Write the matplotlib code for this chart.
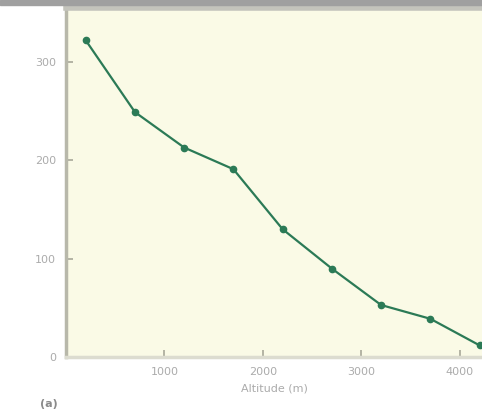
import matplotlib
matplotlib.use("Agg")
import matplotlib.pyplot as plt
from matplotlib.patches import Rectangle

# altitude (m) and value
altitude = [200, 700, 1200, 1700, 2200, 2700, 3200, 3700, 4200]
values = [322, 249, 213, 191, 130, 90, 53, 39, 12]
xticks = [1000, 2000, 3000, 4000]
yticks = [0, 100, 200, 300]

fig = plt.figure(figsize=(4.82, 4.11), dpi=100)
ax = fig.add_axes([0.137, 0.131, 0.863, 0.85])
ax.set_facecolor('#fafae6')

ax.plot(altitude, values, color='#2b7a56', lw=1.6, marker='o', ms=4.5,
        mfc='#2b7a56', mec='#2b7a56', clip_on=False, zorder=3)

ax.set_xlim(0, 4225)
ax.set_ylim(0, 355)
ax.set_xticks(xticks)
ax.set_yticks(yticks)
ax.tick_params(direction='in', length=5, width=1.2, color='#a8a898',
               labelsize=8, labelcolor='#ababab', pad=7)

ax.spines['right'].set_visible(False)
ax.spines['top'].set_color('#c4c4bc')
ax.spines['top'].set_linewidth(4)
ax.spines['left'].set_color('#b8b8aa')
ax.spines['left'].set_linewidth(2.5)
ax.spines['bottom'].set_color('#dcdcd0')
ax.spines['bottom'].set_linewidth(2.5)

ax.set_xlabel('Altitude (m)', fontsize=8, color='#ababab', labelpad=5)

# grey band across the top of the figure
fig.patches.append(Rectangle((0, 0.989), 1, 0.011, transform=fig.transFigure,
                             color='#a0a0a0', zorder=0))
fig.text(0.083, 0.01, '(a)', fontsize=8, color='#8a8a8a', fontweight='bold')

fig.savefig('out.png', dpi=100)
